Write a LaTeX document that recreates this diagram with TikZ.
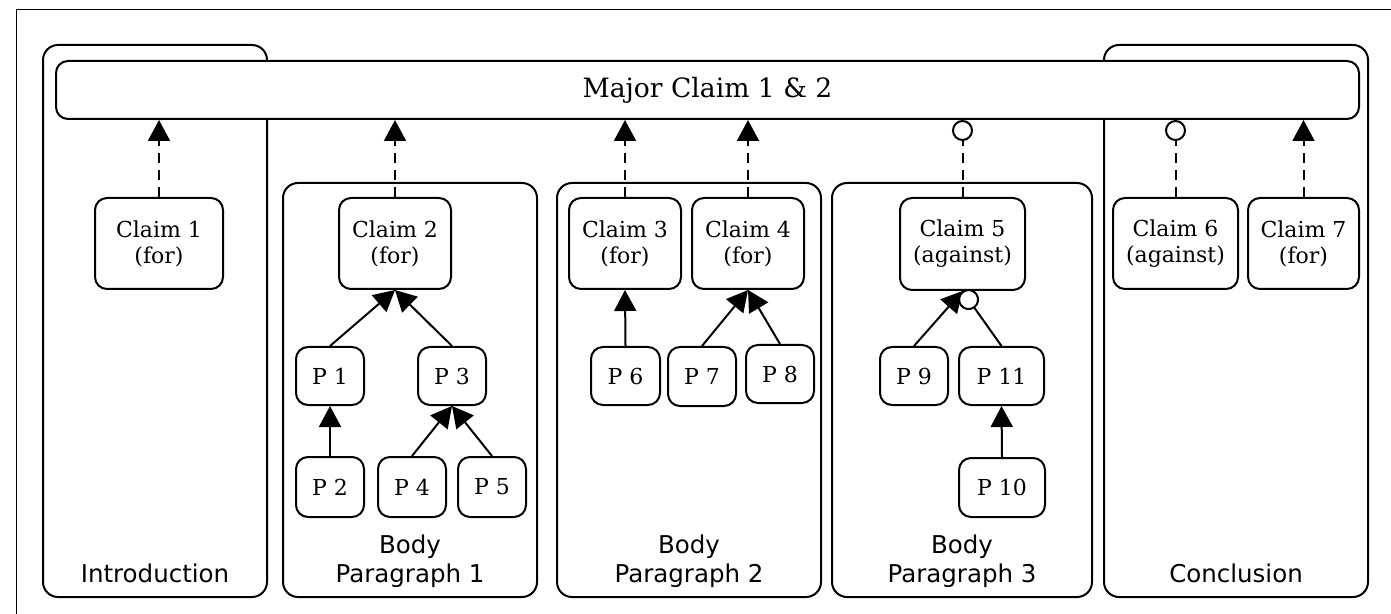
\documentclass[tikz,border=0pt]{standalone}
\usepackage{fontspec}
\setmainfont{DejaVu Serif}
\newfontfamily\labfont{DejaVu Sans}
\usetikzlibrary{arrows.meta}
\begin{document}
\begin{tikzpicture}[x=0.5pt,y=-0.5pt,
  box/.style={draw, line width=1pt, rounded corners=6pt, fill=white, inner sep=0pt, align=center, font=\fontsize{11}{13}\selectfont},
  grp/.style={draw, line width=1pt, rounded corners=7.5pt, fill=white, inner sep=0pt},
  lab/.style={font=\labfont\fontsize{12.25}{14.5}\selectfont, align=center, inner sep=0pt, anchor=base},
  supp/.style={line width=1pt, -{Triangle[length=10.5pt,width=11pt]}},
  att/.style={line width=1pt, -{Circle[open,length=10.5pt,fill=white]}},
  dsh/.style={dash pattern=on 5pt off 3.5pt}
]
\useasboundingbox (0,0) rectangle (1391,614);
\draw[line width=0.5pt] (16,614) -- (16,10) -- (1391,10);

% outer groups
\node[grp, minimum width=112pt, minimum height=276pt] (intro) at (155,321) {};
\node[grp, minimum width=132pt, minimum height=276pt] (concl) at (1236,321) {};
\node[box, minimum width=651.5pt, minimum height=29pt, font=\fontsize{13.3}{15}\selectfont] (MC) at (707.5,90) {Major Claim 1 \& 2};
\node[grp, minimum width=127pt, minimum height=207pt] (bp1) at (410,390) {};
\node[grp, minimum width=132pt, minimum height=207pt] (bp2) at (689,390) {};
\node[grp, minimum width=130pt, minimum height=207pt] (bp3) at (962,390) {};

% labels
\node[lab] (lintro) at (155,582) {Introduction};
\node[lab] (lconcl) at (1236,582) {Conclusion};
\node[lab] (lbp1) at (410,582) {Body\\Paragraph 1};
\node[lab] (lbp2) at (689,582) {Body\\Paragraph 2};
\node[lab] (lbp3) at (962,582) {Body\\Paragraph 3};

% claims
\node[box, minimum width=64pt, minimum height=45.5pt] (C1) at (159,243.5) {Claim 1\\(for)};
\node[box, minimum width=56pt, minimum height=45.5pt] (C2) at (395,243.5) {Claim 2\\(for)};
\node[box, minimum width=56pt, minimum height=45.5pt] (C3) at (625,243.5) {Claim 3\\(for)};
\node[box, minimum width=56pt, minimum height=45.5pt] (C4) at (748,243.5) {Claim 4\\(for)};
\node[box, minimum width=62.5pt, minimum height=46pt] (C5) at (962.5,244) {Claim 5\\(against)};
\node[box, minimum width=62.5pt, minimum height=45.5pt] (C6) at (1175.5,243.5) {Claim 6\\(against)};
\node[box, minimum width=55.5pt, minimum height=45.5pt] (C7) at (1303.5,243.5) {Claim 7\\(for)};

% premises
\node[box, minimum width=34pt, minimum height=29pt] (P1) at (330,376) {P 1};
\node[box, minimum width=34pt, minimum height=29pt] (P3) at (452,376) {P 3};
\node[box, minimum width=34pt, minimum height=30pt] (P2) at (330,487) {P 2};
\node[box, minimum width=34pt, minimum height=30pt] (P4) at (412,487) {P 4};
\node[box, minimum width=34pt, minimum height=30pt] (P5) at (492,487) {P 5};
\node[box, minimum width=34.5pt, minimum height=29pt] (P6) at (625.5,376) {P 6};
\node[box, minimum width=34pt, minimum height=29.5pt] (P7) at (702,376.5) {P 7};
\node[box, minimum width=34pt, minimum height=29pt] (P8) at (780,374) {P 8};
\node[box, minimum width=34pt, minimum height=29pt] (P9) at (914,376) {P 9};
\node[box, minimum width=42.5pt, minimum height=29pt] (P11) at (1001.5,376) {P 11};
\node[box, minimum width=43pt, minimum height=29.5pt] (P10) at (1002,487.5) {P 10};

% claim to major claim
\draw[supp,dsh] (C1.north) -- (C1.north |- MC.south);
\draw[supp,dsh] (C2.north) -- (C2.north |- MC.south);
\draw[supp,dsh] (C3.north) -- (C3.north |- MC.south);
\draw[supp,dsh] (C4.north) -- (C4.north |- MC.south);
\draw[att,dsh] (C5.north) -- (C5.north |- MC.south);
\draw[att,dsh] (C6.north) -- (C6.north |- MC.south);
\draw[supp,dsh] (C7.north) -- (C7.north |- MC.south);

% premises
\draw[supp] (P1.north) -- (C2.south);
\draw[supp] (P3.north) -- (C2.south);
\draw[supp] (P2.north) -- (P1.south);
\draw[supp] (P4.north) -- (P3.south);
\draw[supp] (P5.north) -- (P3.south);
\draw[supp] (P6.north) -- (C3.south);
\draw[supp] (P7.north) -- (C4.south);
\draw[supp] (P8.north) -- (C4.south);
\draw[supp] (P9.north) -- (C5.south);
\draw[att] (P11.north) -- (C5.south);
\draw[supp] (P10.north) -- (P11.south);
\end{tikzpicture}
\end{document}
